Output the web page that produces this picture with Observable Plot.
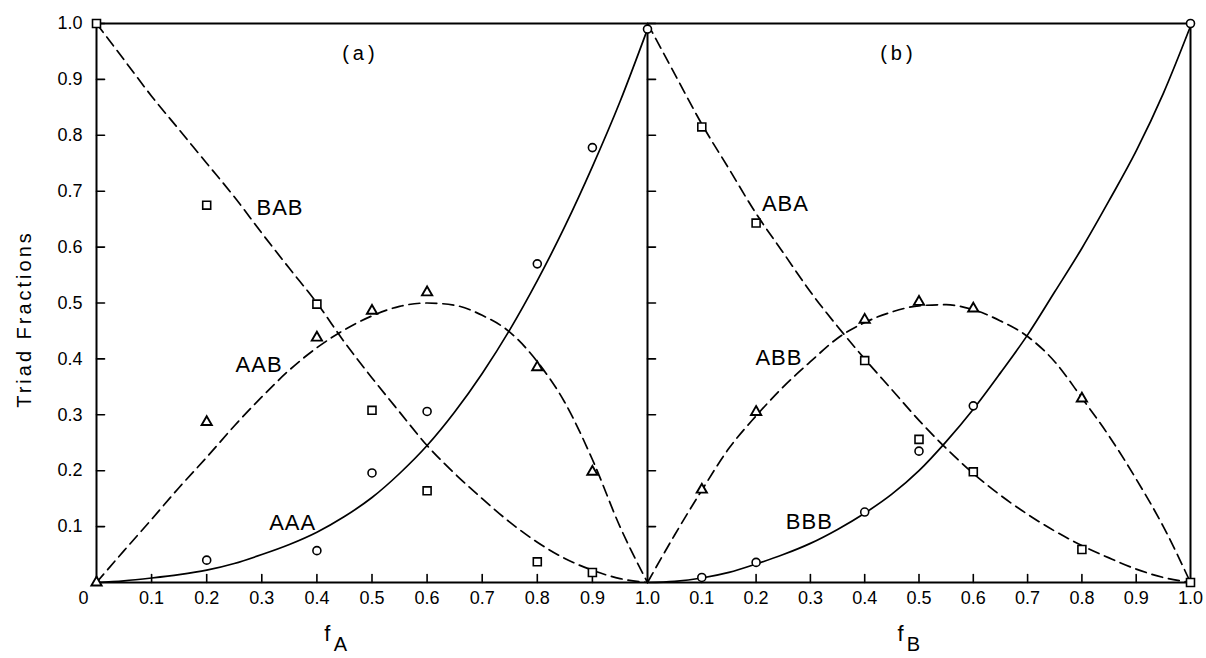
<!DOCTYPE html>
<html>
<head>
<meta charset="utf-8">
<script src="https://cdn.jsdelivr.net/npm/d3@7"></script>
<script src="https://cdn.jsdelivr.net/npm/@observablehq/plot@0.6"></script>
<style>
  html, body { margin: 0; padding: 0; background: #fff; }
  #chart svg { display: block; }
  .spaced-wide text { letter-spacing: 3px; }
  .spaced-panel text { letter-spacing: 4px; }
  .spaced-curve text { letter-spacing: 1px; }
</style>
</head>
<body>
<div id="chart"></div>
<script>
// ---- grid of composition values (f_A for panel a, f_B for panel b)
const fGrid = [0, 0.05, 0.1, 0.15, 0.2, 0.25, 0.3, 0.35, 0.4, 0.45, 0.5, 0.55, 0.6, 0.65, 0.7, 0.75, 0.8, 0.85, 0.9, 0.95, 1.0];

// ---- panel (a) theoretical curves
const curveAAA = [0, 0.003, 0.008, 0.014, 0.022, 0.034, 0.05, 0.068, 0.09, 0.118, 0.152, 0.195, 0.245, 0.305, 0.374, 0.452, 0.54, 0.637, 0.744, 0.86, 0.99];
const curveBAB = [1.0, 0.935, 0.87, 0.81, 0.75, 0.69, 0.625, 0.562, 0.5, 0.43, 0.366, 0.305, 0.245, 0.195, 0.15, 0.108, 0.072, 0.043, 0.022, 0.007, 0];
const curveAAB = [0, 0.057, 0.113, 0.17, 0.224, 0.28, 0.332, 0.38, 0.42, 0.452, 0.477, 0.494, 0.5, 0.496, 0.478, 0.448, 0.395, 0.322, 0.22, 0.1, 0];

// ---- panel (b) theoretical curves
const curveBBB = [0, 0.002, 0.008, 0.018, 0.033, 0.05, 0.07, 0.095, 0.124, 0.158, 0.2, 0.252, 0.31, 0.375, 0.443, 0.52, 0.598, 0.683, 0.772, 0.875, 0.995];
const curveABA = [1.0, 0.91, 0.82, 0.74, 0.66, 0.59, 0.52, 0.458, 0.4, 0.345, 0.29, 0.24, 0.195, 0.156, 0.122, 0.092, 0.066, 0.044, 0.024, 0.009, 0];
const curveABB = [0, 0.085, 0.165, 0.24, 0.298, 0.35, 0.395, 0.437, 0.465, 0.484, 0.495, 0.497, 0.488, 0.468, 0.44, 0.395, 0.33, 0.262, 0.185, 0.1, 0];

// ---- experimental points [f, fraction]
const obsAAA = [[0.2, 0.04], [0.4, 0.057], [0.5, 0.196], [0.6, 0.306], [0.8, 0.57], [0.9, 0.778], [1.0, 0.99]];
const obsBAB = [[0, 1.0], [0.2, 0.675], [0.4, 0.498], [0.5, 0.308], [0.6, 0.164], [0.8, 0.037], [0.9, 0.018]];
const obsAAB = [[0, 0], [0.2, 0.287], [0.4, 0.438], [0.5, 0.486], [0.6, 0.519], [0.8, 0.385], [0.9, 0.198]];
const obsBBB = [[0.1, 0.009], [0.2, 0.036], [0.4, 0.126], [0.5, 0.235], [0.6, 0.316], [1.0, 1.0]];
const obsABA = [[0.1, 0.815], [0.2, 0.643], [0.4, 0.397], [0.5, 0.256], [0.6, 0.198], [0.8, 0.059], [1.0, 0]];
const obsABB = [[0.1, 0.166], [0.2, 0.305], [0.4, 0.47], [0.5, 0.502], [0.6, 0.49], [0.8, 0.329]];

// ---- ticks
const panelTicks = [0.1, 0.2, 0.3, 0.4, 0.5, 0.6, 0.7, 0.8, 0.9];
const yTicks = [0.1, 0.2, 0.3, 0.4, 0.5, 0.6, 0.7, 0.8, 0.9, 1.0];
const xLabelsA = ["0.1", "0.2", "0.3", "0.4", "0.5", "0.6", "0.7", "0.8", "0.9", "1.0"];
const xLabelsB = ["0.1", "0.2", "0.3", "0.4", "0.5", "0.6", "0.7", "0.8", "0.9", "1.0"];
const xLabelValues = [0.1, 0.2, 0.3, 0.4, 0.5, 0.6, 0.7, 0.8, 0.9, 1.0];

// ---- annotations
const curveLabels = [
  {panel: "a", f: 0.333, v: 0.67, text: "BAB"},
  {panel: "a", f: 0.295, v: 0.39, text: "AAB"},
  {panel: "a", f: 0.356, v: 0.106, text: "AAA"},
  {panel: "b", f: 0.254, v: 0.677, text: "ABA"},
  {panel: "b", f: 0.242, v: 0.401, text: "ABB"},
  {panel: "b", f: 0.298, v: 0.108, text: "BBB"}
];
const panelLabels = [
  {panel: "a", f: 0.479, v: 0.946, text: "(a)"},
  {panel: "b", f: 0.462, v: 0.946, text: "(b)"}
];
const axisNames = [
  {panel: "a", f: 0.419, sub: "A"},
  {panel: "b", f: 0.466, sub: "B"}
];

// ---- build rows
const X = d => d.panel === "b" ? 1 + d.f : d.f;
const curveRows = (panel, name, vals) => fGrid.map((f, i) => ({panel, name, f, v: vals[i]}));
const obsRows = (panel, name, pts) => pts.map(([f, v]) => ({panel, name, f, v}));

const solidRows = [...curveRows("a", "AAA", curveAAA), ...curveRows("b", "BBB", curveBBB)];
const dashedRows = [
  ...curveRows("a", "BAB", curveBAB), ...curveRows("a", "AAB", curveAAB),
  ...curveRows("b", "ABA", curveABA), ...curveRows("b", "ABB", curveABB)
];
const circles = [...obsRows("a", "AAA", obsAAA), ...obsRows("b", "BBB", obsBBB)];
const squares = [...obsRows("a", "BAB", obsBAB), ...obsRows("b", "ABA", obsABA)];
const triangles = [...obsRows("a", "AAB", obsAAB), ...obsRows("b", "ABB", obsABB)];

const bottomTicks = [...panelTicks.map(f => ({panel: "a", f})), ...panelTicks.map(f => ({panel: "b", f}))];
const bottomLabels = [
  ...xLabelValues.map((f, i) => ({panel: "a", f, text: xLabelsA[i]})),
  ...xLabelValues.map((f, i) => ({panel: "b", f, text: xLabelsB[i]}))
];

const tickShape = { draw(context, l) { context.moveTo(0, 0); context.lineTo(0, -l); } };
const FONT = "Liberation Sans, Arial, sans-serif";

const chart = Plot.plot({
  width: 1206,
  height: 658,
  marginLeft: 96,
  marginRight: 16,
  marginTop: 23,
  marginBottom: 76,
  style: {fontFamily: FONT, background: "white", color: "black", overflow: "visible"},
  x: {type: "linear", domain: [0, 1, 2], range: [96, 647, 1190], axis: null},
  y: {type: "linear", domain: [0, 1], axis: null},
  marks: [
    // frame
    Plot.ruleY([0, 1], {stroke: "black", strokeWidth: 2}),
    Plot.ruleX([0, 1, 2], {stroke: "black", strokeWidth: 2}),
    // ticks (inward)
    Plot.vector(yTicks, {x: 0, y: d => d, length: 8, rotate: 90, anchor: "start", shape: tickShape, stroke: "black", strokeWidth: 1.6}),
    Plot.vector(yTicks, {x: 1, y: d => d, length: 8, rotate: 90, anchor: "start", shape: tickShape, stroke: "black", strokeWidth: 1.6}),
    Plot.vector(bottomTicks, {x: X, y: 0, length: 8, rotate: 0, anchor: "start", shape: tickShape, stroke: "black", strokeWidth: 1.6}),
    // tick labels
    Plot.text(yTicks, {y: d => d, text: d => d.toFixed(1), frameAnchor: "left", textAnchor: "end", dx: -14, fontSize: 18}),
    Plot.text(bottomLabels, {x: X, text: "text", frameAnchor: "bottom", dy: 21, fontSize: 18}),
    Plot.text(["0"], {x: 0, text: d => d, frameAnchor: "bottom", dy: 21, dx: -13, fontSize: 18}),
    // axis titles
    Plot.text(["Triad Fractions"], {text: d => d, frameAnchor: "left", textAnchor: "middle", dx: -72, dy: 16, rotate: -90, fontSize: 20, className: "spaced-wide"}),
    Plot.text(axisNames, {x: X, text: () => "f", frameAnchor: "bottom", dy: 58, fontSize: 22}),
    Plot.text(axisNames, {x: X, text: "sub", frameAnchor: "bottom", dy: 68, dx: 13, fontSize: 20}),
    // curves
    Plot.line(solidRows, {x: X, y: "v", z: "name", curve: "monotone-x", stroke: "black", strokeWidth: 1.7}),
    Plot.line(dashedRows, {x: X, y: "v", z: "name", curve: "monotone-x", stroke: "black", strokeWidth: 1.7, strokeDasharray: "11,6"}),
    // experimental points
    Plot.dot(circles, {x: X, y: "v", symbol: "circle", r: 4, stroke: "black", fill: "white", strokeWidth: 1.6}),
    Plot.dot(squares, {x: X, y: "v", symbol: "square", r: 4.5, stroke: "black", fill: "white", strokeWidth: 1.6}),
    Plot.dot(triangles, {x: X, y: "v", symbol: "triangle", r: 3.8, stroke: "black", fill: "white", strokeWidth: 1.9}),
    // labels
    Plot.text(curveLabels, {x: X, y: "v", text: "text", fontSize: 22, className: "spaced-curve"}),
    Plot.text(panelLabels, {x: X, y: "v", text: "text", fontSize: 20, className: "spaced-panel"})
  ]
});
document.getElementById("chart").appendChild(chart);
</script>
</body>
</html>
